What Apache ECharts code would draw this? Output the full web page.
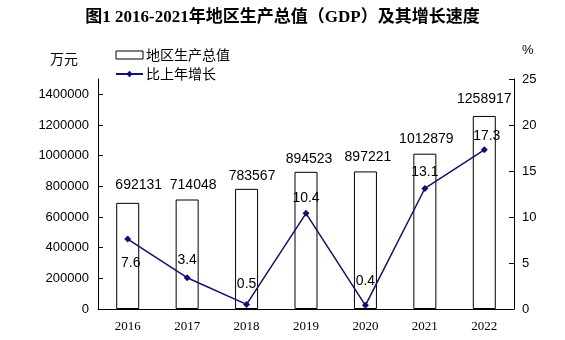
<!DOCTYPE html>
<html>
<head>
<meta charset="utf-8">
<script src="https://cdn.jsdelivr.net/npm/echarts@6/dist/echarts.min.js"></script>
<style>
  html, body { margin: 0; padding: 0; background: #fff; }
  #chart { width: 565px; height: 340px; }
</style>
</head>
<body>
<div id="chart"></div>
<script>
// GDP by year (万元) and year-on-year growth (%)
const years = ['2016', '2017', '2018', '2019', '2020', '2021', '2022'];
const gdp = [692131, 714048, 783567, 894523, 897221, 1012879, 1258917];
const growth = [7.6, 3.4, 0.5, 10.4, 0.4, 13.1, 17.3];

// label placement: [horizontal shift, gap above/below the mark]
const gdpLabelShift = [11, 6, 5.5, 3, 2.5, 1.5, 0];
const gdpLabelGap = [11, 7.5, 6, 5.5, 7.7, 7.7, 9.7];
const growthLabelPos = ['bottom', 'top', 'top', 'top', 'top', 'top', 'top'];
const growthLabelShift = [3, 0, 0, 0, 0, 0, 2.5];
const growthLabelGap = [14, 7, 10, 5, 14, 6, 3];

const sans = "'Liberation Sans', Arial, 'Noto Sans CJK SC', sans-serif";
const cjk = "'Noto Sans CJK SC', 'Liberation Sans', sans-serif";
const ink = '#000';
const navy = '#10107a';

const chart = echarts.init(document.getElementById('chart'), null, { renderer: 'canvas' });

chart.setOption({
  animation: false,
  backgroundColor: '#fff',
  title: {
    text: '图1 2016-2021年地区生产总值（GDP）及其增长速度',
    left: 'center',
    top: 4,
    textStyle: {
      fontFamily: "'Liberation Serif', 'Noto Sans CJK SC', serif",
      fontWeight: 'bold',
      fontSize: 17,
      color: ink
    }
  },
  legend: {
    orient: 'vertical',
    left: 110,
    top: 43,
    itemWidth: 27,
    itemHeight: 8,
    itemGap: 5,
    textStyle: { fontFamily: cjk, fontSize: 14, color: ink, lineHeight: 14, padding: [0, 0, 0, -2] },
    data: [
      { name: '地区生产总值', icon: 'rect', itemStyle: { color: '#fff', borderColor: ink, borderWidth: 1 } },
      { name: '比上年增长' }
    ]
  },
  graphic: [
    { type: 'text', left: 50, top: 52, style: { text: '万元', font: "14px " + cjk, fill: ink } },
    { type: 'text', left: 522, top: 44, style: { text: '%', font: "13px " + sans, fill: ink } }
  ],
  grid: [
    { left: 98, right: 51, top: 79, bottom: 31 },
    { left: 98, right: 51, top: 94.33, bottom: 31 }
  ],
  xAxis: [
    {
      type: 'category',
      gridIndex: 0,
      data: years,
      boundaryGap: true,
      axisLine: { lineStyle: { color: ink, width: 1 } },
      axisTick: { inside: true, length: 5, lineStyle: { color: ink } },
      axisLabel: {
        color: ink,
        fontFamily: "'Liberation Serif', 'DejaVu Serif', serif",
        fontSize: 13,
        margin: 11
      },
      splitLine: { show: false }
    },
    {
      type: 'category',
      gridIndex: 1,
      data: years,
      show: false
    }
  ],
  yAxis: [
    {
      // left axis line spanning the full plot height
      type: 'value',
      gridIndex: 0,
      position: 'left',
      min: 0,
      max: 1500000,
      axisLine: { show: true, lineStyle: { color: ink, width: 1 } },
      axisTick: { show: false },
      axisLabel: { show: false },
      splitLine: { show: false }
    },
    {
      type: 'value',
      gridIndex: 0,
      position: 'right',
      min: 0,
      max: 25,
      interval: 5,
      axisLine: { show: true, lineStyle: { color: ink, width: 1 } },
      axisTick: { show: true, inside: true, length: 5, lineStyle: { color: ink } },
      axisLabel: { color: ink, fontFamily: sans, fontSize: 13, margin: 8 },
      splitLine: { show: false }
    },
    {
      // left ticks and labels, 0 – 1 400 000
      type: 'value',
      gridIndex: 1,
      position: 'left',
      min: 0,
      max: 1400000,
      interval: 200000,
      axisLine: { show: false },
      axisTick: { show: true, inside: true, length: 5, lineStyle: { color: ink } },
      axisLabel: {
        color: ink,
        fontFamily: sans,
        fontSize: 13,
        margin: 9,
        formatter: (v) => String(v)
      },
      splitLine: { show: false }
    }
  ],
  series: [
    {
      name: '地区生产总值',
      type: 'bar',
      xAxisIndex: 0,
      yAxisIndex: 0,
      data: gdp.map((v, i) => ({
        value: v,
        label: { distance: gdpLabelGap[i], offset: [gdpLabelShift[i], 0] }
      })),
      barWidth: 23,
      itemStyle: { color: '#fff', borderColor: ink, borderWidth: 1 },
      label: {
        show: true,
        position: 'top',
        color: ink,
        fontFamily: sans,
        fontSize: 14
      },
      z: 2
    },
    {
      name: '比上年增长',
      type: 'line',
      xAxisIndex: 0,
      yAxisIndex: 1,
      data: growth.map((v, i) => ({
        value: v,
        label: {
          position: growthLabelPos[i],
          distance: growthLabelGap[i],
          offset: [growthLabelShift[i], 0]
        }
      })),
      symbol: 'diamond',
      symbolSize: 7,
      lineStyle: { color: navy, width: 1.5 },
      itemStyle: { color: navy },
      label: {
        show: true,
        color: ink,
        fontFamily: sans,
        fontSize: 14
      },
      z: 3
    },
    {
      // binds the tick/label axis to its grid
      type: 'bar',
      xAxisIndex: 1,
      yAxisIndex: 2,
      data: [],
      silent: true
    }
  ]
});
</script>
</body>
</html>
